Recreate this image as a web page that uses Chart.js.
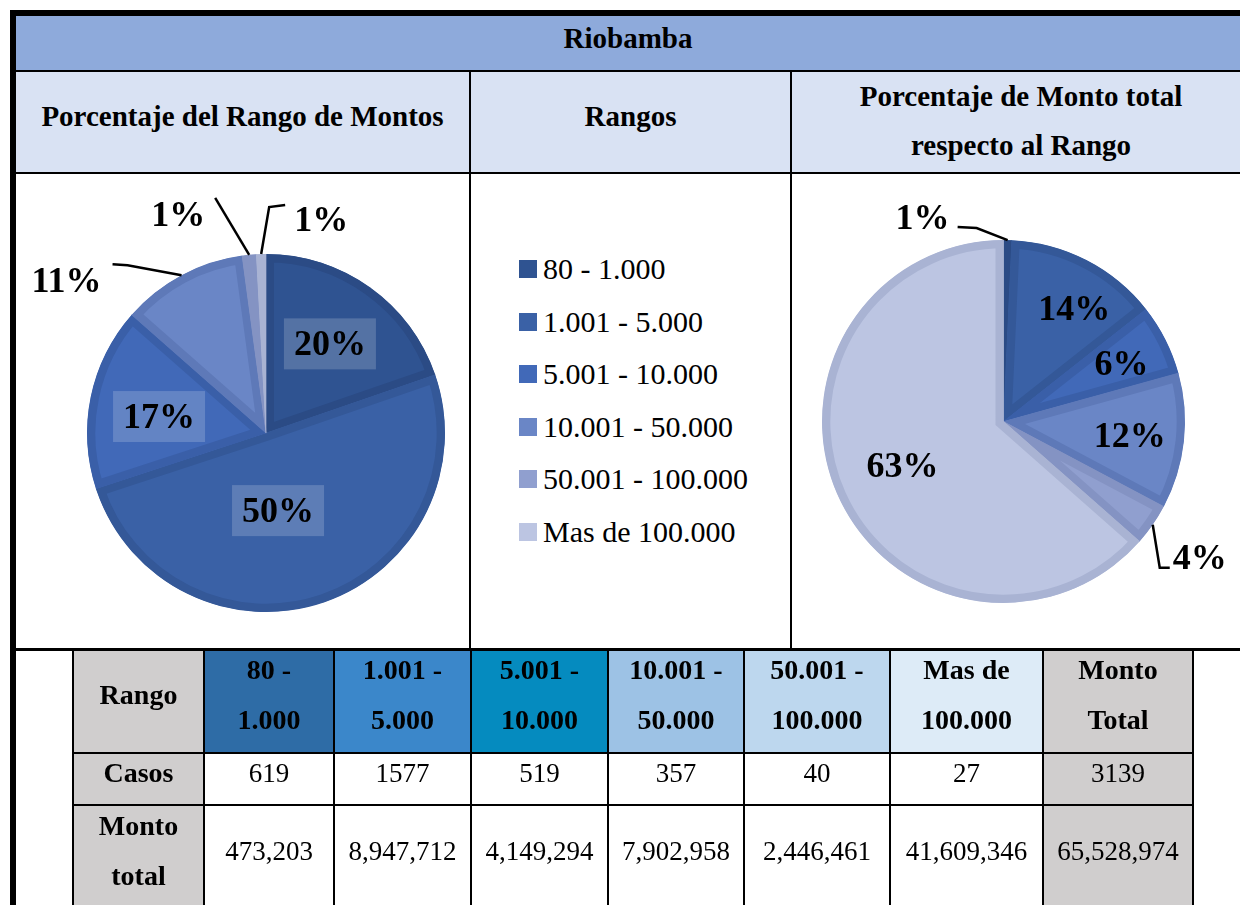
<!DOCTYPE html>
<html>
<head>
<meta charset="utf-8">
<script src="https://cdn.jsdelivr.net/npm/chart.js@4.4.0/dist/chart.umd.min.js"></script>
<style>
  body { margin: 0; background: #fff; width: 1240px; height: 905px; overflow: hidden; position: relative; font-family: "Liberation Serif", "Times New Roman", serif; }
  .abs { position: absolute; }
  .blk { position: absolute; background: #000; z-index: 5; }
  .hd { position: absolute; font-weight: bold; font-size: 29px; text-align: center; color: #000; }
  .cell { position: absolute; box-sizing: border-box; }
  .txt { position: absolute; left: 0; right: 0; text-align: center; line-height: 50px; color: #000; }
  .leg { position: absolute; left: 519px; font-size: 30px; line-height: 36px; height: 36px; }
  .leg span.sq { position: absolute; left: 0; top: 9px; width: 18px; height: 18px; }
  .leg span.tx { position: absolute; left: 24px; white-space: nowrap; }
</style>
</head>
<body>

<!-- cabecera -->
<div class="abs" style="left:16px;top:16px;width:1224px;height:55px;background:#8eaadb;"></div>
<div class="hd" style="left:16px;top:18px;width:1224px;line-height:40px;">Riobamba</div>
<div class="abs" style="left:16px;top:72px;width:1224px;height:101px;background:#d9e2f3;"></div>
<div class="hd" style="left:16px;top:96px;width:453px;line-height:40px;">Porcentaje del Rango de Montos</div>
<div class="hd" style="left:471px;top:96px;width:319px;line-height:40px;">Rangos</div>
<div class="hd" style="left:792px;top:72px;width:458px;line-height:49px;">Porcentaje de Monto total<br>respecto al Rango</div>

<!-- graficos -->
<div class="abs" style="left:18px;top:176px;"><canvas id="pie1" width="450" height="472"></canvas></div>
<div class="abs" style="left:792px;top:176px;"><canvas id="pie2" width="448" height="472"></canvas></div>
<div id="legend"></div>

<!-- tabla -->
<div id="tabla"></div>

<!-- lineas del marco -->
<div class="blk" style="left:10px;top:10px;width:1230px;height:6px;"></div>
<div class="blk" style="left:10px;top:10px;width:6px;height:895px;"></div>
<div class="blk" style="left:16px;top:70px;width:1224px;height:2px;"></div>
<div class="blk" style="left:16px;top:172px;width:1224px;height:2px;"></div>
<div class="blk" style="left:469px;top:72px;width:2px;height:578px;"></div>
<div class="blk" style="left:790px;top:72px;width:2px;height:578px;"></div>
<div class="blk" style="left:10px;top:648px;width:1230px;height:3px;"></div>

<script>
/* ============================ Datos ============================ */
const rangos = ["80 - 1.000", "1.001 - 5.000", "5.001 - 10.000", "10.001 - 50.000", "50.001 - 100.000", "Mas de 100.000"];
const casos = [619, 1577, 519, 357, 40, 27];
const montos = [473203, 8947712, 4149294, 7902958, 2446461, 41609346];

const fillColors = ["#2f5391", "#3a61a6", "#4169b8", "#6a86c6", "#909fcf", "#bcc5e2"];
const rimColors = ["#2b4b85", "#345898", "#3a5fa8", "#5e79b8", "#8493c3", "#a9b3d3"];
const headColors = ["#2e6ca6", "#3b87ca", "#058bbf", "#9dc2e5", "#bdd7ee", "#ddebf7"];

/* ============================ Etiquetas ============================ */
const sliceLabels = {
    id: "sliceLabels",
    afterDatasetsDraw(chart, args, opts) {
        const ctx = chart.ctx;
        const meta = chart.getDatasetMeta(0);
        const data = chart.data.datasets[0].data;
        const total = data.reduce((a, b) => a + b, 0);
        ctx.save();
        ctx.font = 'bold 36px "Liberation Serif"';
        ctx.textAlign = "center";
        ctx.textBaseline = "alphabetic";
        meta.data.forEach((arc, i) => {
            const l = opts.items[i];
            const txt = Math.round((data[i] / total) * 100) + "%";
            const p = arc.getProps(["x", "y", "startAngle", "endAngle", "outerRadius"], true);
            const mid = (p.startAngle + p.endAngle) / 2;
            if (l.path) {
                const ex = p.x + Math.cos(mid) * p.outerRadius;
                const ey = p.y + Math.sin(mid) * p.outerRadius;
                ctx.beginPath();
                ctx.moveTo(ex, ey);
                l.path.forEach((q) => ctx.lineTo(ex + q[0], ey + q[1]));
                ctx.strokeStyle = "#000";
                ctx.lineWidth = 2.5;
                ctx.stroke();
                const last = l.path[l.path.length - 1];
                ctx.fillStyle = "#000";
                ctx.fillText(txt, ex + last[0] + l.text[0], ey + last[1] + l.text[1] + 12);
            } else {
                const a = mid + (l.da * Math.PI) / 180;
                const tx = p.x + Math.cos(a) * p.outerRadius * l.r;
                const ty = p.y + Math.sin(a) * p.outerRadius * l.r;
                if (opts.box) {
                    ctx.fillStyle = "rgba(255,255,255,0.18)";
                    ctx.fillRect(tx - 46, ty - 25, 92, 51);
                }
                ctx.fillStyle = "#000";
                ctx.fillText(txt, tx, ty + 12);
            }
        });
        ctx.restore();
    },
};

function makePie(id, values, padding, items, box) {
    return new Chart(document.getElementById(id), {
        type: "pie",
        data: {
            labels: rangos,
            datasets: [
                {
                    data: values,
                    backgroundColor: fillColors,
                    borderColor: rimColors,
                    borderWidth: 8,
                    borderAlign: "inner",
                    borderJoinStyle: "miter",
                },
            ],
        },
        options: {
            responsive: false,
            animation: false,
            layout: { padding: padding },
            plugins: {
                legend: { display: false },
                tooltip: { enabled: false },
                sliceLabels: { items: items, box: box },
            },
        },
        plugins: [sliceLabels],
    });
}

/* ============================ Pie casos ============================ */
makePie("pie1", casos, { left: 69, right: 23, top: 78, bottom: 36 }, [
    { r: 0.615, da: 0 },
    { r: 0.436, da: 9.7 },
    { r: 0.605, da: -2.6 },
    { path: [[-54, -10], [-69, -11]], text: [-46, 16] },
    { path: [[-34, -57]], text: [-37, 16] },
    { path: [[8, -47], [24, -49]], text: [36, 14] },
], true);

/* ============================ Pie montos ============================ */
makePie("pie2", montos, { left: 30, right: 55, top: 64, bottom: 45 }, [
    { path: [[-31, -12], [-50, -13]], text: [-35, -10] },
    { r: 0.735, da: 4.9 },
    { r: 0.727, da: 0.3 },
    { r: 0.7, da: 0 },
    { path: [[7, 43], [17, 43]], text: [30, -11] },
    { r: 0.606, da: 1 },
], false);

/* ============================ Leyenda ============================ */
const legend = document.getElementById("legend");
rangos.forEach((r, i) => {
    const d = document.createElement("div");
    d.className = "leg";
    d.style.top = 269 - 18 + i * 52.6 + "px";
    d.innerHTML = '<span class="sq" style="background:' + fillColors[i] + '"></span><span class="tx">' + r + "</span>";
    legend.appendChild(d);
});

/* ============================ Tabla ============================ */
const colX = [73, 204, 334, 471, 608, 744, 890, 1043, 1193];
const rowY = [651, 753, 805, 915];
const rowMid = [695, 773, 851];
const tabla = document.getElementById("tabla");

function split2(s) {
    const k = s.lastIndexOf(" ");
    return [s.slice(0, k), s.slice(k + 1)];
}
const fmt = (n) => n.toLocaleString("en-US");
const sum = (a) => a.reduce((x, y) => x + y, 0);

const rows = [
    [{ t: ["Rango"], b: true, bg: "#d0cece" }].concat(rangos.map((r, i) => ({ t: split2(r), b: true, bg: headColors[i] }))).concat([{ t: ["Monto", "Total"], b: true, bg: "#d0cece" }]),
    [{ t: ["Casos"], b: true, bg: "#d0cece" }].concat(casos.map((v) => ({ t: [String(v)], bg: "#fff" }))).concat([{ t: [String(sum(casos))], bg: "#d0cece" }]),
    [{ t: ["Monto", "total"], b: true, bg: "#d0cece" }].concat(montos.map((v) => ({ t: [fmt(v)], bg: "#fff" }))).concat([{ t: [fmt(sum(montos))], bg: "#d0cece" }]),
];

rows.forEach((row, r) => {
    row.forEach((c, k) => {
        const d = document.createElement("div");
        d.className = "cell";
        d.style.left = colX[k] + "px";
        d.style.top = rowY[r] + "px";
        d.style.width = colX[k + 1] - colX[k] + "px";
        d.style.height = rowY[r + 1] - rowY[r] + "px";
        d.style.background = c.bg;
        const t = document.createElement("div");
        t.className = "txt";
        t.style.top = rowMid[r] - rowY[r] - c.t.length * 25 + "px";
        t.style.fontSize = c.b ? "28px" : "27px";
        t.style.fontWeight = c.b ? "bold" : "normal";
        t.innerHTML = c.t.join("<br>");
        d.appendChild(t);
        tabla.appendChild(d);
    });
});
colX.forEach((x) => {
    const l = document.createElement("div");
    l.className = "blk";
    l.style.cssText = "left:" + (x - 1) + "px;top:651px;width:2px;height:260px;";
    tabla.appendChild(l);
});
[753, 805].forEach((y) => {
    const l = document.createElement("div");
    l.className = "blk";
    l.style.cssText = "left:" + colX[0] + "px;top:" + (y - 1) + "px;width:" + (colX[colX.length - 1] - colX[0]) + "px;height:2px;";
    tabla.appendChild(l);
});
</script>
</body>
</html>
